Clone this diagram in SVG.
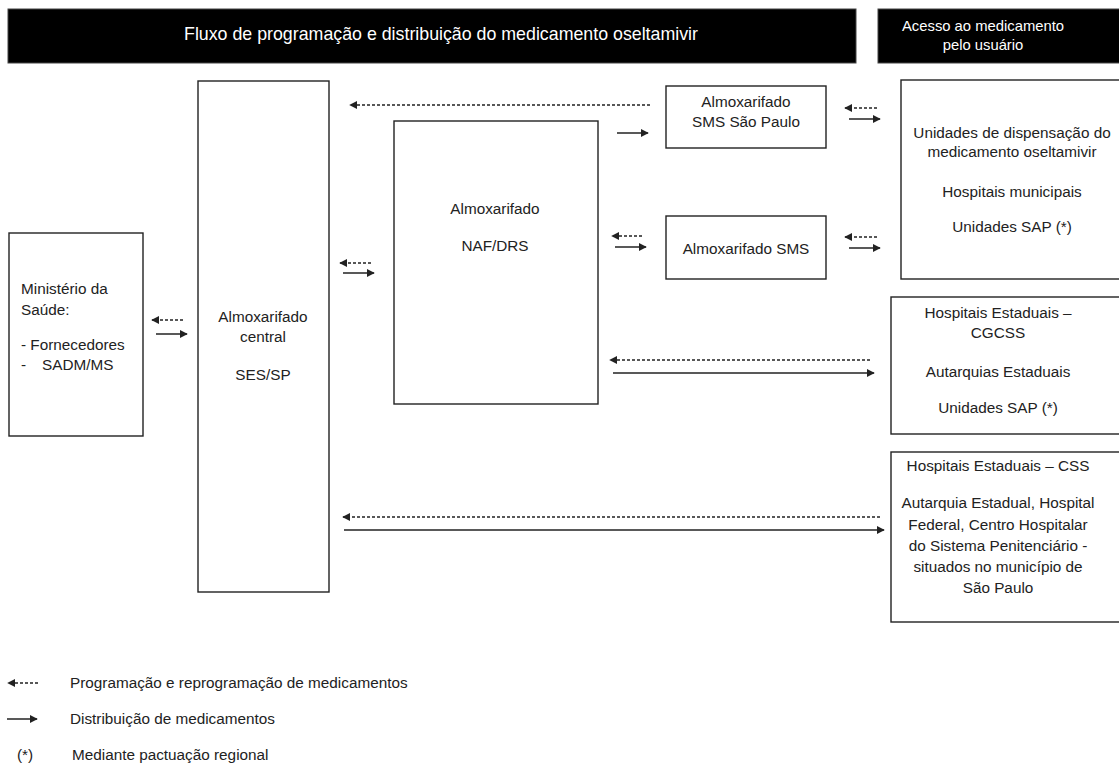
<svg xmlns="http://www.w3.org/2000/svg" width="1119" height="765" viewBox="0 0 1119 765">
<defs>
<marker id="ah" viewBox="0 0 10 10" refX="9" refY="5" markerWidth="8" markerHeight="8" markerUnits="userSpaceOnUse" orient="auto">
<path d="M0,0 L10,5 L0,10 Z" fill="#222"/>
</marker>
<style>
.box{fill:#fff;stroke:#222;stroke-width:1.4}
.hdr{fill:#000;stroke:#444;stroke-width:1}
.t{font-family:"Liberation Sans",Arial,sans-serif;font-size:15.3px;fill:#222}
.c{text-anchor:middle}
.w{fill:#fff}
.big{font-size:17.8px}
.sol{stroke:#222;stroke-width:1.5;fill:none;marker-end:url(#ah)}
.das{stroke:#222;stroke-width:1.3;fill:none;stroke-dasharray:3 2;marker-end:url(#ah)}
</style>
</defs>
<rect width="1119" height="765" fill="#fff"/>
<g id="header-fluxo">
<rect class="hdr" x="8" y="9" width="848" height="54"/>
<text class="t c w big" x="441" y="40">Fluxo de programação e distribuição do medicamento oseltamivir</text>
</g>
<g id="header-acesso">
<rect class="hdr" x="878" y="9" width="250" height="54"/>
<text class="t c w" x="983" y="31" style="font-size:14.8px">Acesso ao medicamento</text>
<text class="t c w" x="983" y="50" style="font-size:14.8px">pelo usuário</text>
</g>
<g id="ministerio">
<rect class="box" x="9" y="233" width="134" height="203"/>
<text class="t" x="21" y="294">Ministério da</text>
<text class="t" x="21" y="315">Saúde:</text>
<text class="t" x="21" y="350">- Fornecedores</text>
<text class="t" x="21" y="370">-</text>
<text class="t" x="42" y="370">SADM/MS</text>
</g>
<g id="central">
<rect class="box" x="198" y="81" width="131" height="511"/>
<text class="t c" x="263" y="322">Almoxarifado</text>
<text class="t c" x="263" y="342">central</text>
<text class="t c" x="263" y="380">SES/SP</text>
</g>
<g id="naf">
<rect class="box" x="394" y="121" width="204" height="283"/>
<text class="t c" x="495" y="214">Almoxarifado</text>
<text class="t c" x="495" y="251">NAF/DRS</text>
</g>
<g id="sms-sp">
<rect class="box" x="666" y="86" width="160" height="62"/>
<text class="t c" x="746" y="107">Almoxarifado</text>
<text class="t c" x="746" y="127">SMS São Paulo</text>
</g>
<g id="sms">
<rect class="box" x="666" y="216" width="160" height="63"/>
<text class="t c" x="746" y="254">Almoxarifado SMS</text>
</g>
<g id="unidades">
<rect class="box" x="901" y="80" width="230" height="199"/>
<text class="t c" x="1012" y="138">Unidades de dispensação do</text>
<text class="t c" x="1012" y="157">medicamento oseltamivir</text>
<text class="t c" x="1012" y="197">Hospitais municipais</text>
<text class="t c" x="1012" y="232">Unidades SAP (*)</text>
</g>
<g id="cgcss">
<rect class="box" x="891" y="297" width="240" height="137"/>
<text class="t c" x="998" y="318">Hospitais Estaduais –</text>
<text class="t c" x="998" y="338">CGCSS</text>
<text class="t c" x="998" y="377">Autarquias Estaduais</text>
<text class="t c" x="998" y="413">Unidades SAP (*)</text>
</g>
<g id="css">
<rect class="box" x="891" y="452" width="240" height="170"/>
<text class="t c" x="998" y="471">Hospitais Estaduais – CSS</text>
<text class="t c" x="998" y="508">Autarquia Estadual, Hospital</text>
<text class="t c" x="998" y="530">Federal, Centro Hospitalar</text>
<text class="t c" x="998" y="551">do Sistema Penitenciário -</text>
<text class="t c" x="998" y="572">situados no município de</text>
<text class="t c" x="998" y="593">São Paulo</text>
</g>
<g id="connectors">
<path class="das" d="M183,320 H152"/>
<path class="sol" d="M156,334 H187"/>
<path class="das" d="M371,263 H340"/>
<path class="sol" d="M343,273 H374"/>
<path class="das" d="M650,105 H350"/>
<path class="sol" d="M617,133 H648"/>
<path class="das" d="M642,236 H612"/>
<path class="sol" d="M615,247 H646"/>
<path class="das" d="M877,108 H845"/>
<path class="sol" d="M849,119 H880"/>
<path class="das" d="M877,237 H845"/>
<path class="sol" d="M849,248 H880"/>
<path class="das" d="M870,360 H610"/>
<path class="sol" d="M613,373 H874"/>
<path class="das" d="M880,517 H343"/>
<path class="sol" d="M344,530 H884"/>
</g>
<g id="legend">
<path class="das" d="M38,683 H8"/>
<text class="t" x="70" y="688">Programação e reprogramação de medicamentos</text>
<path class="sol" d="M7,719 H37"/>
<text class="t" x="70" y="724">Distribuição de medicamentos</text>
<text class="t" x="17" y="760">(*)</text>
<text class="t" x="72" y="760">Mediante pactuação regional</text>
</g>
</svg>
